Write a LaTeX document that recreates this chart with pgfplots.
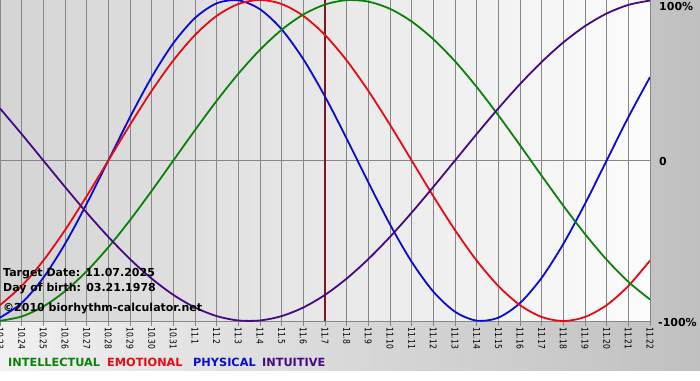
\documentclass[border=0pt]{standalone}
\usepackage{pgfplots}
\usepackage{pgfplotstable}
\pgfplotsset{compat=1.18}
\usepackage{fontspec}
\setmainfont{DejaVu Sans}
\newfontfamily\tickfont[FakeStretch=0.82]{DejaVu Sans}
\definecolor{cphy}{RGB}{10,10,215}
\definecolor{cemo}{RGB}{230,10,20}
\definecolor{cint}{RGB}{10,130,10}
\definecolor{citu}{RGB}{70,10,130}
\definecolor{ctarget}{RGB}{125,25,30}
\definecolor{bgL}{RGB}{240,240,240}
\definecolor{bgR}{RGB}{192,192,192}
\definecolor{plL}{RGB}{212,212,212}
\definecolor{plR}{RGB}{252,252,252}
\definecolor{gridc}{RGB}{135,135,135}

\pgfplotstableread{
x phy emo int itu
0 -0.9791 -0.9010 -0.9989 0.3247
1 -0.8879 -0.7818 -0.9718 0.1646
2 -0.7308 -0.6235 -0.9096 0
3 -0.5196 -0.4339 -0.8146 -0.1646
4 -0.2698 -0.2225 -0.6901 -0.3247
5 0 0 -0.5406 -0.4759
6 0.2698 0.2225 -0.3717 -0.6142
7 0.5196 0.4339 -0.1893 -0.7357
8 0.7308 0.6235 0 -0.8372
9 0.8879 0.7818 0.1893 -0.9158
10 0.9791 0.9010 0.3717 -0.9694
11 0.9977 0.9749 0.5406 -0.9966
12 0.9423 1 0.6901 -0.9966
13 0.8170 0.9749 0.8146 -0.9694
14 0.6311 0.9010 0.9096 -0.9158
15 0.3984 0.7818 0.9718 -0.8372
16 0.1362 0.6235 0.9989 -0.7357
17 -0.1362 0.4339 0.9898 -0.6142
18 -0.3984 0.2225 0.9450 -0.4759
19 -0.6311 0 0.8660 -0.3247
20 -0.8170 -0.2225 0.7557 -0.1646
21 -0.9423 -0.4339 0.6182 0
22 -0.9977 -0.6235 0.4582 0.1646
23 -0.9791 -0.7818 0.2817 0.3247
24 -0.8879 -0.9010 0.0951 0.4759
25 -0.7308 -0.9749 -0.0951 0.6142
26 -0.5196 -1 -0.2817 0.7357
27 -0.2698 -0.9749 -0.4582 0.8372
28 0 -0.9010 -0.6182 0.9158
29 0.2698 -0.7818 -0.7557 0.9694
30 0.5196 -0.6235 -0.8660 0.9966
}\bio

\begin{document}
\begin{tikzpicture}[x=1pt,y=1pt]
\useasboundingbox (0,0) rectangle (700,380);
\fill[white] (0,0) rectangle (700,380);
\shade[left color=bgL, right color=bgR] (0,10) rectangle (700,380);
\shade[left color=plL, right color=plR] (0,59) rectangle (650,380);
\begin{axis}[
  at={(0pt,59pt)}, anchor=south west,
  scale only axis, width=650pt, height=321pt,
  xmin=0, xmax=30, ymin=-1, ymax=1,
  axis line style={draw=none},
  xtick={0,...,30},
  xticklabels={10.23,10.24,10.25,10.26,10.27,10.28,10.29,10.30,10.31,11.1,11.2,11.3,11.4,11.5,11.6,11.7,11.8,11.9,11.10,11.11,11.12,11.13,11.14,11.15,11.16,11.17,11.18,11.19,11.20,11.21,11.22},
  xtick pos=bottom,
  tick align=outside,
  major tick length=5pt,
  xtick style={draw=gridc, line width=0.8pt},
  xticklabel style={rotate=-90, anchor=west, inner sep=1pt, font=\tickfont\fontsize{9.3}{10}\selectfont, text=black},
  ytick={0}, yticklabels={},
  ytick style={draw=none},
  xmajorgrids, ymajorgrids,
  grid style={draw=gridc, line width=0.8pt},
  clip=true,
]
\draw[gridc, line width=0.8pt] (axis cs:0,-1) -- (axis cs:30,-1);
\addplot[ctarget, line width=2.2pt] coordinates {(15,-1) (15,1)};
\addplot[cphy, line width=1.8pt, smooth] table[x=x, y=phy] {\bio};
\addplot[cemo, line width=1.8pt, smooth] table[x=x, y=emo] {\bio};
\addplot[cint, line width=1.8pt, smooth] table[x=x, y=int] {\bio};
\addplot[citu, line width=1.8pt, smooth] table[x=x, y=itu] {\bio};
\end{axis}
\begin{scope}[every node/.style={inner sep=0pt, anchor=base west, font=\bfseries\fontsize{11}{13}\selectfont}]
\node at (3,103) {Target Date: 11.07.2025};
\node at (3,89) {Day of birth: 03.21.1978};
\node at (3,69) {©2010 biorhythm-calculator.net};
\node at (659,369) {100\%};
\node at (659,214) {0};
\node at (658,54) {-100\%};
\node[text=cint, font=\bfseries\fontsize{11.3}{13}\selectfont] at (8,14) {INTELLECTUAL};
\node[text=cemo, font=\bfseries\fontsize{11.3}{13}\selectfont] at (107,14) {EMOTIONAL};
\node[text=cphy, font=\bfseries\fontsize{11.3}{13}\selectfont] at (193,14) {PHYSICAL};
\node[text=citu, font=\bfseries\fontsize{11.3}{13}\selectfont] at (262,14) {INTUITIVE};
\end{scope}
\end{tikzpicture}
\end{document}
